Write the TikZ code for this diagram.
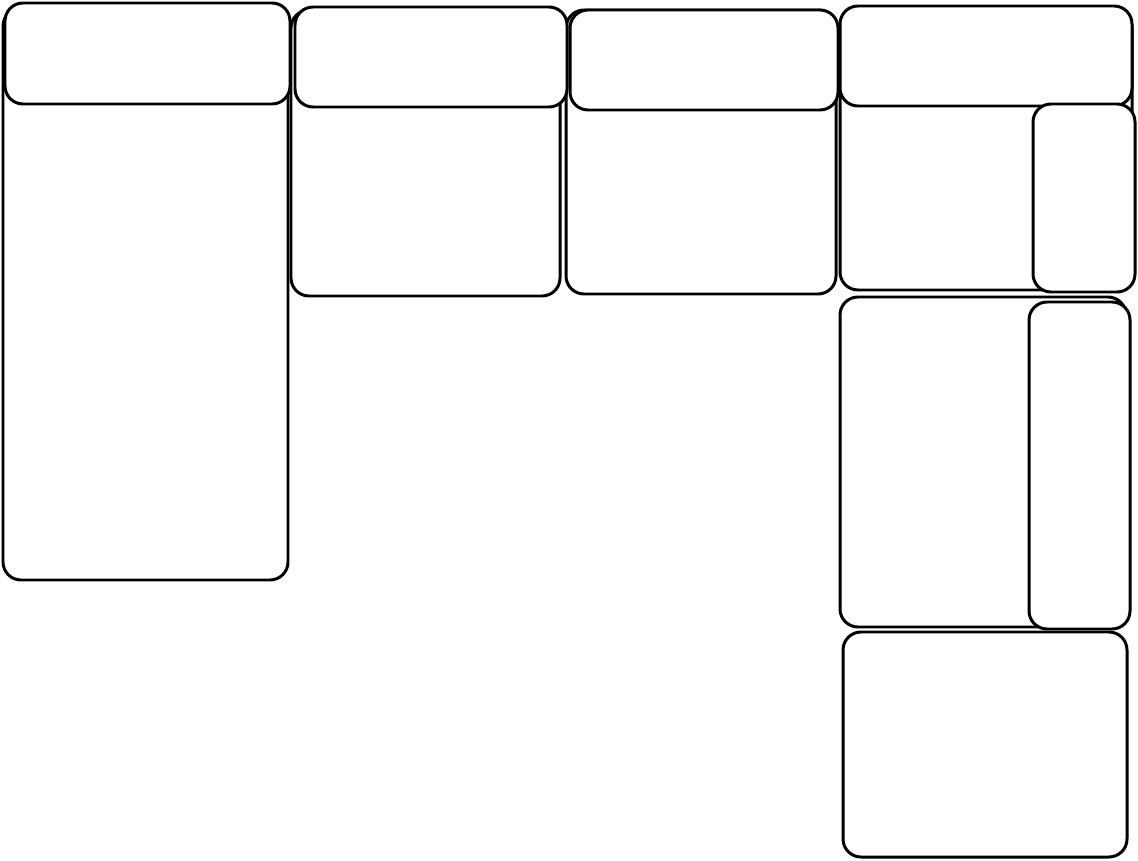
\documentclass[tikz,border=0pt]{standalone}
\usepackage{tikz}

\begin{document}
\begin{tikzpicture}[x=0.02cm,y=-0.02cm,
  part/.style={draw,line width=1.7pt,fill=white,rounded corners=0.36cm}]

\useasboundingbox (0,0) rectangle (1138,861);

% seats
\draw[part] (3,8) rectangle (288,580);%
\draw[part] (291,10) rectangle (560,296);%
\draw[part] (566,10) rectangle (836,294);%
\draw[part] (840,10) rectangle (1132,290);%
\draw[part] (840,297) rectangle (1126,627);%

% backs
\draw[part] (5,3) rectangle (290,104);
\draw[part] (295,7) rectangle (567,107);
\draw[part] (570,10) rectangle (838,110);
\draw[part] (840,6) rectangle (1132,106);

% arms
\draw[part] (1033,104) rectangle (1135,292);
\draw[part] (1029,302) rectangle (1130,629);

% ottoman
\draw[part] (843,632) rectangle (1127,857);

\end{tikzpicture}
\end{document}
